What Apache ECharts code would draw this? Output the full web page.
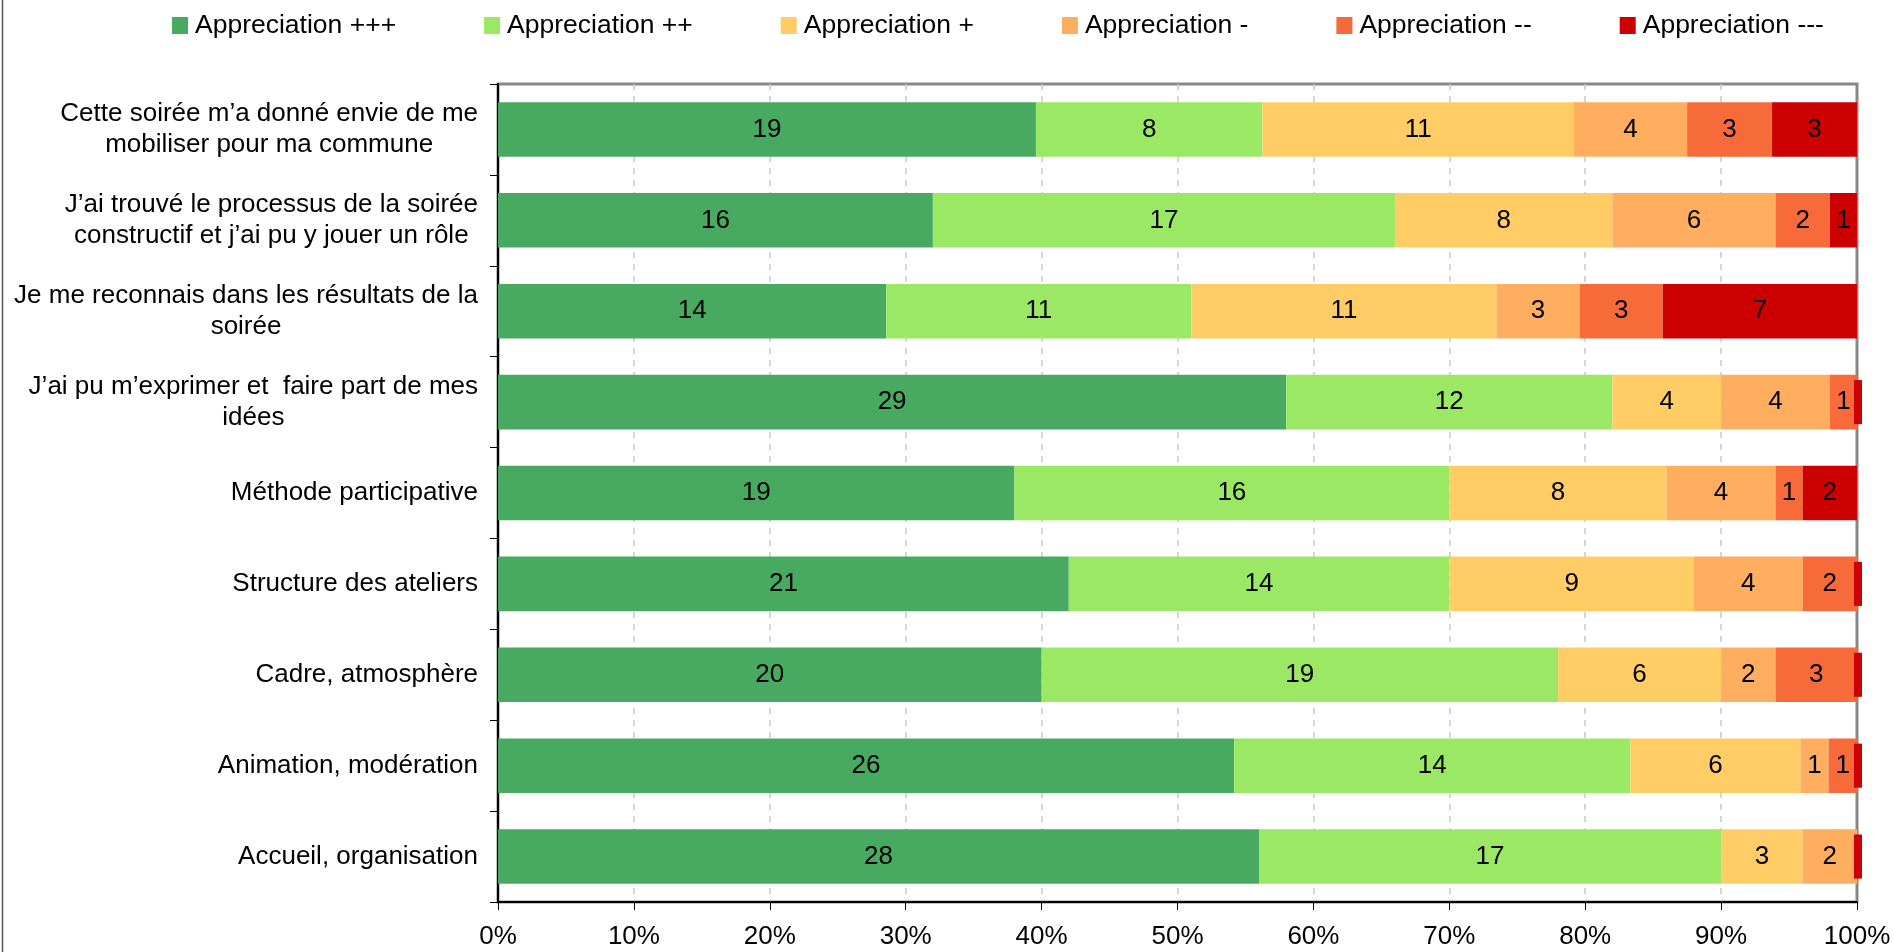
<!DOCTYPE html>
<html>
<head>
<meta charset="utf-8">
<script src="https://cdn.jsdelivr.net/npm/echarts@6/dist/echarts.min.js"></script>
<style>
html,body{margin:0;padding:0;background:#fff;}
#chart{width:1894px;height:952px;}
</style>
</head>
<body>
<div id="chart"></div>
<script>
const categories = [
  "Cette soirée m’a donné envie de me\nmobiliser pour ma commune",
  "J’ai trouvé le processus de la soirée\nconstructif et j’ai pu y jouer un rôle",
  "Je me reconnais dans les résultats de la\nsoirée",
  "J’ai pu m’exprimer et  faire part de mes\nidées",
  "Méthode participative",
  "Structure des ateliers",
  "Cadre, atmosphère",
  "Animation, modération",
  "Accueil, organisation"
];
const seriesNames = ["Appreciation +++", "Appreciation ++", "Appreciation +", "Appreciation -", "Appreciation --", "Appreciation ---"];
const apprPPP = [19, 16, 14, 29, 19, 21, 20, 26, 28];
const apprPP  = [8, 17, 11, 12, 16, 14, 19, 14, 17];
const apprP   = [11, 8, 11, 4, 8, 9, 6, 6, 3];
const apprM   = [4, 6, 3, 4, 4, 4, 2, 1, 2];
const apprMM  = [3, 2, 3, 1, 1, 2, 3, 1, 0];
const apprMMM = [3, 1, 7, 0, 2, 0, 0, 0, 0];
const xTickLabels = ["0%", "10%", "20%", "30%", "40%", "50%", "60%", "70%", "80%", "90%", "100%"];

const colors = ["#48AA60", "#9BE865", "#FFCC66", "#FFAD5F", "#F76B3B", "#CC0000"];
const FONT = '"Liberation Sans", Arial, sans-serif';
const seriesValues = [apprPPP, apprPP, apprP, apprM, apprMM, apprMMM];
const totals = categories.map((_, i) => seriesValues.reduce((s, arr) => s + arr[i], 0));

const chart = echarts.init(document.getElementById('chart'), null, {renderer: 'canvas'});

const barSeries = seriesNames.map((name, k) => ({
  type: 'bar',
  name: name,
  stack: 'total',
  barCategoryGap: '40%',
  itemStyle: {color: colors[k]},
  label: {
    show: true,
    position: 'inside',
    color: '#000',
    fontSize: 26,
    fontFamily: FONT,
    formatter: p => { const c = seriesValues[k][p.dataIndex]; return c ? String(c) : ''; }
  },
  emphasis: {disabled: true},
  data: seriesValues[k].map((v, i) => v / totals[i] * 100)
}));

// Excel draws a thin red marker where the "---" count is zero
const zeroMarker = {
  type: 'custom',
  name: 'zero---',
  silent: true,
  z: 3,
  renderItem: (params, api) => {
    if (api.value(2) !== 0) return null;
    const pt = api.coord([100, api.value(1)]);
    const band = api.size([0, 1])[1];
    const h = band * 0.485;
    return {
      type: 'rect',
      shape: {x: pt[0] - 3, y: pt[1] - h / 2, width: 8, height: h},
      style: {fill: colors[5]}
    };
  },
  encode: {x: 0, y: 1},
  data: apprMMM.map((v, i) => [100, i, v])
};

chart.setOption({
  animation: false,
  backgroundColor: '#fff',
  textStyle: {fontFamily: FONT},
  legend: {
    data: seriesNames,
    left: 172,
    top: 12,
    padding: 0,
    itemGap: 88,
    itemWidth: 16,
    itemHeight: 17,
    icon: 'rect',
    textStyle: {fontSize: 26.5, color: '#000', fontFamily: FONT, padding: [0, 0, 0, 2]}
  },
  grid: {
    left: 498, right: 37, top: 84, bottom: 50,
    show: true, borderColor: '#878787', borderWidth: 3, backgroundColor: 'transparent'
  },
  xAxis: {
    type: 'value',
    min: 0, max: 100, interval: 10,
    axisLine: {show: true, lineStyle: {color: '#000', width: 2}},
    axisTick: {show: true, length: 8, lineStyle: {color: '#000', width: 1}},
    axisLabel: {
      fontSize: 26, color: '#000', fontFamily: FONT, margin: 22,
      formatter: v => xTickLabels[Math.round(v / 10)]
    },
    splitLine: {show: true, showMinLine: false, showMaxLine: false, lineStyle: {color: '#C8C8C8', type: [6, 6], width: 1.5}}
  },
  yAxis: {
    type: 'category',
    inverse: true,
    data: categories,
    axisLine: {show: true, lineStyle: {color: '#000', width: 2}},
    axisTick: {show: true, length: 8, lineStyle: {color: '#000', width: 1}},
    axisLabel: {
      margin: 20,
      color: '#000',
      fontSize: 26,
      fontFamily: FONT,
      lineHeight: 31,
      formatter: v => v.split('\n').map(l => '{c|' + l + '}').join('\n'),
      rich: {c: {align: 'center', fontSize: 26, lineHeight: 31, color: '#000', fontFamily: FONT}}
    },
    splitLine: {show: false}
  },
  graphic: [{
    type: 'line',
    shape: {x1: 2.5, y1: 0, x2: 2.5, y2: 952},
    style: {stroke: '#555', lineWidth: 1.5}
  }],
  series: barSeries.concat([zeroMarker])
});
</script>
</body>
</html>
